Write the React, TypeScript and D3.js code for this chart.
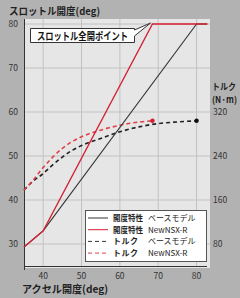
import React from "react";
import * as d3 from "d3";

const accelTicks = [40, 50, 60, 70, 80];
const throttleTicks = [30, 40, 50, 60, 70, 80];
const torqueTicks = [80, 160, 240, 320];

const throttleBase: [number, number][] = [[35, 29.3], [40, 33], [80, 80], [82.8, 80]];
const throttleNSX: [number, number][] = [[35, 29.3], [40, 33], [68.5, 80], [82.8, 80]];
const torqueBase: [number, number][] = [
  [35, 178], [37.5, 195], [40, 208], [42.5, 224], [45, 238], [47.5, 250], [50, 259],
  [55, 272], [60, 284], [65, 293], [70, 299], [75, 302], [80, 304],
];
const torqueNSX: [number, number][] = [
  [35, 178], [37.5, 197], [40, 219], [42.5, 238], [45, 254], [47.5, 266], [50, 275],
  [55, 287], [60, 296], [64, 301], [68.5, 304],
];

const legendItems = [
  { a: "開度特性", b: "ベースモデル", color: "#333", dash: "" },
  { a: "開度特性", b: "NewNSX-R", color: "#d42030", dash: "" },
  { a: "トルク", b: "ベースモデル", color: "#333", dash: "4,3" },
  { a: "トルク", b: "NewNSX-R", color: "#e0404a", dash: "4,3" },
];

const FONT = "'Noto Sans CJK JP', 'Noto Sans', sans-serif";

export default function App() {
  const W = 240, H = 298;
  const left = 24, right = 210, top = 19, bottom = 266;
  const x = d3.scaleLinear().domain([35, 83.5]).range([left, right]);
  const y = d3.scaleLinear().domain([25, 81.14]).range([bottom, top]);
  const yT = d3.scaleLinear().domain([(25 - 20) * 8, (81.14 - 20) * 8]).range([bottom, top]);

  const lineDeg = d3.line<[number, number]>().x((d) => x(d[0])).y((d) => y(d[1]));
  const lineTq = d3
    .line<[number, number]>()
    .x((d) => x(d[0]))
    .y((d) => yT(d[1]))
    .curve(d3.curveMonotoneX);

  const red = "#d42030";
  const lastB = torqueBase[torqueBase.length - 1];
  const lastN = torqueNSX[torqueNSX.length - 1];

  return (
    <svg width={W} height={H} style={{ position: "absolute", left: 0, top: 0, background: "#b2b2b2" }} fontFamily={FONT}>
      <rect x={0} y={0} width={W} height={H} fill="#b2b2b2" />
      <rect x={left} y={top} width={right - left} height={bottom - top + 2} fill="#e6e6e6" />
      {accelTicks.map((t) => (
        <line key={"gx" + t} x1={x(t)} x2={x(t)} y1={top} y2={bottom} stroke="#c2c2c2" strokeWidth={1} />
      ))}
      {throttleTicks.map((t) => (
        <line key={"gy" + t} x1={left} x2={right} y1={y(t)} y2={y(t)} stroke="#c2c2c2" strokeWidth={1} />
      ))}
      {/* axes */}
      <line x1={left + 0.5} x2={left + 0.5} y1={top} y2={bottom + 4} stroke="#333" strokeWidth={1} />
      <line x1={left} x2={207} y1={bottom + 0.5} y2={bottom + 0.5} stroke="#333" strokeWidth={1} />

      {/* left tick labels */}
      {throttleTicks.map((t) => (
        <text key={"ly" + t} x={18} y={y(t)} dy="0.35em" textAnchor="end" fontSize={8.5} fill="#333">
          {t}
        </text>
      ))}
      {/* right tick labels */}
      {torqueTicks.map((t) => (
        <text key={"ry" + t} x={213} y={yT(t)} dy="0.35em" textAnchor="start" fontSize={8.5} fill="#333">
          {t}
        </text>
      ))}
      {/* x tick labels */}
      {accelTicks.map((t) => (
        <text key={"lx" + t} x={x(t)} y={276} dy="0.35em" textAnchor="middle" fontSize={8.5} fill="#333">
          {t}
        </text>
      ))}

      {/* titles */}
      <text x={9} y={15} fontSize={10} fontWeight="bold" fill="#222" textLength={91} lengthAdjust="spacingAndGlyphs">
        スロットル開度(deg)
      </text>
      <text x={22} y={293} fontSize={10.5} fontWeight="bold" fill="#222" textLength={86} lengthAdjust="spacingAndGlyphs">
        アクセル開度(deg)
      </text>
      <text x={212} y={90} fontSize={9} fontWeight="bold" fill="#222" textLength={24} lengthAdjust="spacingAndGlyphs">
        トルク
      </text>
      <text x={212} y={102.5} fontSize={9} fontWeight="bold" fill="#222" textLength={25} lengthAdjust="spacingAndGlyphs">
        (N·m)
      </text>

      {/* torque curves */}
      <path d={lineTq(torqueBase) || ""} fill="none" stroke="#222" strokeWidth={1.6} strokeDasharray="4,3" />
      <path d={lineTq(torqueNSX) || ""} fill="none" stroke="#e0404a" strokeWidth={1.6} strokeDasharray="4,3" />
      <circle cx={x(lastB[0])} cy={yT(lastB[1])} r={2.2} fill="#111" />
      <circle cx={x(lastN[0])} cy={yT(lastN[1])} r={2.2} fill="#d42030" />

      {/* throttle lines */}
      <path d={lineDeg(throttleBase) || ""} fill="none" stroke="#333" strokeWidth={1.1} />
      <path d={lineDeg(throttleNSX) || ""} fill="none" stroke={red} strokeWidth={1.3} />

      {/* callout */}
      <path
        d={`M30.5,28.5 H134.5 V30 L${x(68.5) - 2},${y(80) - 1} L134.5,36 V42.5 H30.5 Z`}
        fill="#fff"
        stroke="#333"
        strokeWidth={1}
      />
      <text x={37} y={39.5} fontSize={10.5} fontWeight="bold" fill="#111" textLength={91} lengthAdjust="spacingAndGlyphs">
        スロットル全開ポイント
      </text>

      {/* legend */}
      <rect x={85.5} y={210.5} width={121} height={51} fill="#fff" stroke="#555" strokeWidth={1} />
      {legendItems.map((it, i) => {
        const cy = 218 + i * 11.7;
        return (
          <g key={"lg" + i}>
            <line x1={88} x2={108} y1={cy} y2={cy} stroke={it.color} strokeWidth={1} strokeDasharray={it.dash} />
            <text
              x={113}
              y={cy}
              dy="0.35em"
              fontSize={8}
              fontWeight="bold"
              fill="#222"
              textLength={i >= 2 ? 25 : 30}
              lengthAdjust={i >= 2 ? "spacing" : "spacingAndGlyphs"}
            >
              {it.a}
            </text>
            <text x={148} y={cy} dy="0.35em" fontSize={8} fill="#222">
              {it.b}
            </text>
          </g>
        );
      })}
    </svg>
  );
}
